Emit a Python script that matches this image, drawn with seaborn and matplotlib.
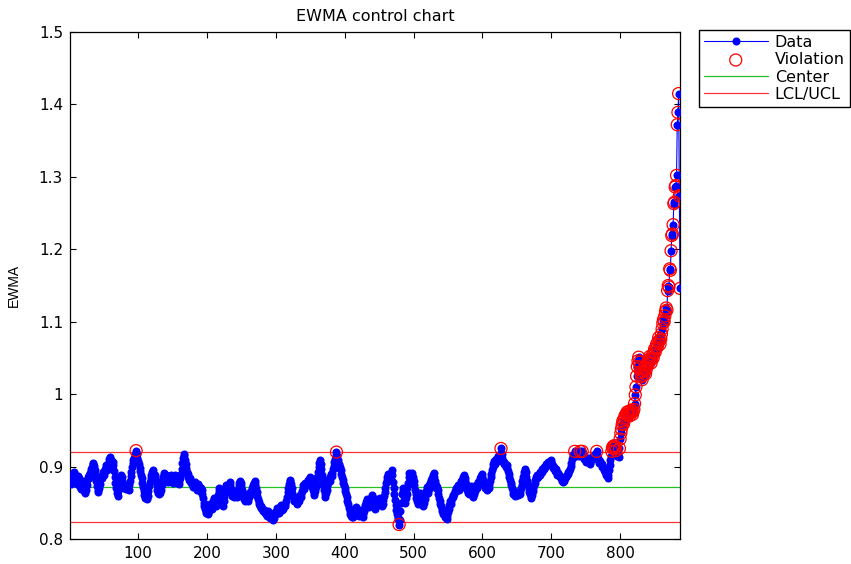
# EWMA control chart, MATLAB style, drawn with seaborn

import numpy as np
import pandas as pd
import seaborn as sns
import matplotlib
matplotlib.use("Agg")
import matplotlib.pyplot as plt


# EWMA values, samples 1..887
ewma_001_100 = [
    0.885, 0.880, 0.876, 0.879, 0.886, 0.890, 0.893, 0.888, 0.884, 0.879,
    0.876, 0.881, 0.887, 0.884, 0.878, 0.872, 0.869, 0.874, 0.880, 0.877,
    0.870, 0.866, 0.863, 0.868, 0.875, 0.882, 0.886, 0.884, 0.889, 0.891,
    0.893, 0.897, 0.900, 0.903, 0.905, 0.901, 0.895, 0.888, 0.880, 0.873,
    0.868, 0.865, 0.870, 0.876, 0.881, 0.886, 0.884, 0.889, 0.893, 0.889,
    0.893, 0.897, 0.902, 0.898, 0.895, 0.901, 0.906, 0.910, 0.913, 0.909,
    0.904, 0.899, 0.906, 0.902, 0.894, 0.886, 0.878, 0.870, 0.863, 0.860,
    0.866, 0.873, 0.879, 0.884, 0.888, 0.885, 0.880, 0.876, 0.873, 0.871,
    0.874, 0.871, 0.869, 0.872, 0.870, 0.868, 0.874, 0.880, 0.887, 0.893,
    0.899, 0.905, 0.909, 0.912, 0.915, 0.918, 0.922, 0.917, 0.912, 0.908,
]
ewma_101_200 = [
    0.903, 0.898, 0.894, 0.889, 0.884, 0.878, 0.872, 0.866, 0.861, 0.856,
    0.861, 0.858, 0.855, 0.860, 0.866, 0.873, 0.879, 0.884, 0.889, 0.893,
    0.895, 0.890, 0.886, 0.888, 0.885, 0.880, 0.874, 0.868, 0.864, 0.862,
    0.866, 0.864, 0.868, 0.874, 0.880, 0.886, 0.891, 0.888, 0.884, 0.886,
    0.889, 0.887, 0.883, 0.879, 0.882, 0.885, 0.889, 0.886, 0.882, 0.878,
    0.881, 0.885, 0.888, 0.884, 0.880, 0.877, 0.881, 0.879, 0.876, 0.880,
    0.884, 0.890, 0.897, 0.905, 0.912, 0.918, 0.914, 0.909, 0.903, 0.898,
    0.893, 0.890, 0.886, 0.882, 0.884, 0.880, 0.877, 0.879, 0.875, 0.872,
    0.876, 0.879, 0.875, 0.871, 0.868, 0.872, 0.876, 0.873, 0.869, 0.866,
    0.870, 0.867, 0.862, 0.856, 0.850, 0.845, 0.842, 0.838, 0.836, 0.840,
]
ewma_201_300 = [
    0.837, 0.834, 0.838, 0.843, 0.848, 0.845, 0.841, 0.846, 0.852, 0.856,
    0.853, 0.849, 0.845, 0.850, 0.856, 0.861, 0.866, 0.870, 0.865, 0.860,
    0.855, 0.850, 0.846, 0.852, 0.858, 0.864, 0.870, 0.874, 0.871, 0.867,
    0.872, 0.876, 0.879, 0.874, 0.869, 0.864, 0.860, 0.863, 0.858, 0.862,
    0.866, 0.862, 0.858, 0.863, 0.868, 0.873, 0.877, 0.880, 0.878, 0.873,
    0.868, 0.863, 0.858, 0.855, 0.852, 0.856, 0.860, 0.857, 0.853, 0.856,
    0.858, 0.861, 0.865, 0.862, 0.866, 0.870, 0.874, 0.878, 0.880, 0.876,
    0.871, 0.865, 0.860, 0.855, 0.851, 0.848, 0.846, 0.843, 0.845, 0.842,
    0.839, 0.842, 0.838, 0.836, 0.839, 0.835, 0.832, 0.835, 0.838, 0.834,
    0.831, 0.829, 0.833, 0.830, 0.828, 0.826, 0.829, 0.833, 0.837, 0.835,
]
ewma_301_400 = [
    0.839, 0.843, 0.840, 0.836, 0.839, 0.844, 0.847, 0.843, 0.840, 0.844,
    0.841, 0.845, 0.849, 0.846, 0.852, 0.858, 0.865, 0.871, 0.876, 0.880,
    0.882, 0.876, 0.870, 0.864, 0.860, 0.856, 0.852, 0.856, 0.853, 0.849,
    0.852, 0.856, 0.853, 0.857, 0.861, 0.858, 0.862, 0.866, 0.870, 0.874,
    0.869, 0.873, 0.877, 0.874, 0.878, 0.882, 0.879, 0.883, 0.886, 0.884,
    0.880, 0.876, 0.872, 0.868, 0.864, 0.861, 0.866, 0.872, 0.878, 0.885,
    0.892, 0.899, 0.905, 0.909, 0.903, 0.896, 0.889, 0.881, 0.874, 0.868,
    0.862, 0.858, 0.863, 0.868, 0.873, 0.878, 0.883, 0.880, 0.885, 0.890,
    0.887, 0.891, 0.896, 0.901, 0.906, 0.911, 0.916, 0.920, 0.914, 0.909,
    0.903, 0.898, 0.900, 0.895, 0.890, 0.886, 0.882, 0.878, 0.874, 0.870,
]
ewma_401_500 = [
    0.866, 0.862, 0.858, 0.853, 0.848, 0.843, 0.839, 0.835, 0.832, 0.830,
    0.833, 0.831, 0.835, 0.838, 0.836, 0.840, 0.844, 0.841, 0.838, 0.835,
    0.832, 0.836, 0.840, 0.838, 0.834, 0.831, 0.835, 0.839, 0.843, 0.847,
    0.851, 0.855, 0.852, 0.848, 0.844, 0.848, 0.852, 0.857, 0.861, 0.858,
    0.855, 0.851, 0.846, 0.842, 0.846, 0.850, 0.855, 0.853, 0.849, 0.852,
    0.856, 0.853, 0.849, 0.845, 0.849, 0.854, 0.859, 0.865, 0.871, 0.877,
    0.882, 0.886, 0.890, 0.886, 0.882, 0.886, 0.891, 0.895, 0.888, 0.879,
    0.870, 0.862, 0.854, 0.847, 0.840, 0.834, 0.830, 0.827, 0.820, 0.826,
    0.838, 0.850, 0.862, 0.870, 0.866, 0.860, 0.855, 0.850, 0.856, 0.862,
    0.870, 0.878, 0.885, 0.891, 0.888, 0.884, 0.888, 0.891, 0.886, 0.880,
]
ewma_501_600 = [
    0.874, 0.868, 0.862, 0.857, 0.853, 0.849, 0.852, 0.856, 0.860, 0.864,
    0.858, 0.853, 0.849, 0.846, 0.850, 0.855, 0.860, 0.866, 0.872, 0.868,
    0.864, 0.869, 0.874, 0.878, 0.882, 0.879, 0.884, 0.888, 0.891, 0.886,
    0.880, 0.875, 0.870, 0.872, 0.867, 0.862, 0.857, 0.853, 0.849, 0.845,
    0.842, 0.838, 0.835, 0.838, 0.834, 0.831, 0.829, 0.828, 0.832, 0.837,
    0.842, 0.847, 0.852, 0.849, 0.853, 0.857, 0.861, 0.858, 0.862, 0.866,
    0.870, 0.866, 0.870, 0.874, 0.871, 0.867, 0.871, 0.876, 0.880, 0.877,
    0.881, 0.885, 0.888, 0.884, 0.880, 0.876, 0.872, 0.868, 0.864, 0.862,
    0.865, 0.869, 0.873, 0.869, 0.865, 0.861, 0.858, 0.862, 0.866, 0.870,
    0.874, 0.871, 0.875, 0.879, 0.876, 0.880, 0.884, 0.887, 0.890, 0.886,
]
ewma_601_700 = [
    0.882, 0.878, 0.874, 0.870, 0.872, 0.868, 0.871, 0.874, 0.870, 0.875,
    0.880, 0.885, 0.890, 0.895, 0.899, 0.904, 0.908, 0.903, 0.907, 0.911,
    0.908, 0.912, 0.915, 0.910, 0.914, 0.918, 0.925, 0.918, 0.912, 0.907,
    0.903, 0.907, 0.903, 0.899, 0.902, 0.898, 0.894, 0.890, 0.886, 0.882,
    0.878, 0.874, 0.870, 0.866, 0.862, 0.866, 0.863, 0.860, 0.863, 0.861,
    0.864, 0.861, 0.865, 0.862, 0.866, 0.870, 0.875, 0.880, 0.885, 0.889,
    0.893, 0.897, 0.892, 0.886, 0.880, 0.874, 0.869, 0.865, 0.862, 0.859,
    0.857, 0.861, 0.866, 0.870, 0.874, 0.878, 0.882, 0.886, 0.884, 0.888,
    0.885, 0.889, 0.892, 0.889, 0.893, 0.896, 0.893, 0.897, 0.900, 0.897,
    0.900, 0.903, 0.901, 0.904, 0.906, 0.903, 0.906, 0.908, 0.909, 0.907,
]
ewma_701_800 = [
    0.904, 0.901, 0.898, 0.900, 0.897, 0.894, 0.896, 0.892, 0.889, 0.891,
    0.888, 0.885, 0.887, 0.884, 0.882, 0.880, 0.879, 0.882, 0.880, 0.884,
    0.887, 0.885, 0.889, 0.892, 0.890, 0.894, 0.897, 0.901, 0.905, 0.910,
    0.913, 0.916, 0.918, 0.921, 0.917, 0.914, 0.916, 0.918, 0.917, 0.915,
    0.919, 0.921, 0.917, 0.914, 0.921, 0.918, 0.914, 0.910, 0.912, 0.909,
    0.906, 0.909, 0.912, 0.909, 0.906, 0.903, 0.906, 0.910, 0.913, 0.911,
    0.914, 0.916, 0.913, 0.917, 0.915, 0.921, 0.916, 0.912, 0.908, 0.905,
    0.908, 0.904, 0.900, 0.903, 0.899, 0.895, 0.897, 0.892, 0.888, 0.891,
    0.887, 0.884, 0.889, 0.895, 0.902, 0.909, 0.915, 0.921, 0.926, 0.928,
    0.925, 0.929, 0.926, 0.922, 0.918, 0.914, 0.917, 0.913, 0.925, 0.938,
]
ewma_801_887 = [
    0.946, 0.952, 0.958, 0.963, 0.959, 0.965, 0.970, 0.967, 0.972, 0.975,
    0.971, 0.976, 0.973, 0.970, 0.974, 0.978, 0.975, 0.972, 0.976, 0.979,
    0.987, 0.999, 1.010, 1.025, 1.038, 1.046, 1.051, 1.044, 1.037, 1.030,
    1.024, 1.020, 1.026, 1.031, 1.036, 1.033, 1.028, 1.034, 1.040, 1.045,
    1.042, 1.048, 1.052, 1.047, 1.043, 1.049, 1.054, 1.050, 1.057, 1.062,
    1.058, 1.064, 1.069, 1.065, 1.072, 1.078, 1.074, 1.069, 1.076, 1.083,
    1.090, 1.098, 1.103, 1.100, 1.108, 1.114, 1.119, 1.116, 1.143, 1.150,
    1.148, 1.173, 1.171, 1.198, 1.219, 1.221, 1.234, 1.263, 1.265, 1.286,
    1.288, 1.302, 1.372, 1.389, 1.415, 1.274, 1.146,
]

# control limits
center = 0.8712
ucl = 0.9195
lcl = 0.8229

x_ticks = [100, 200, 300, 400, 500, 600, 700, 800]
y_ticks = [0.8, 0.9, 1.0, 1.1, 1.2, 1.3, 1.4, 1.5]
y_tick_labels = ["0.8", "0.9", "1", "1.1", "1.2", "1.3", "1.4", "1.5"]


ewma = np.concatenate([ewma_001_100, ewma_101_200, ewma_201_300, ewma_301_400,
                       ewma_401_500, ewma_501_600, ewma_601_700, ewma_701_800,
                       ewma_801_887])
df = pd.DataFrame({"sample": np.arange(1, len(ewma) + 1), "ewma": ewma})
# points outside the limits get a red ring
df["violation"] = (df.ewma > ucl) | (df.ewma < lcl)

sns.set_style("ticks")
# the source text is a stretched Helvetica, DejaVu is the closest in width
plt.rcParams["font.family"] = ["DejaVu Sans"]
plt.rcParams["text.color"] = "black"
plt.rcParams["axes.labelcolor"] = "black"

fig = plt.figure(figsize=(8.51, 5.64), dpi=100)
ax = fig.add_axes([70 / 851, 1 - 539 / 564, 610 / 851, 507 / 564])

sns.lineplot(data=df, x="sample", y="ewma", color="blue", linewidth=0.8,
             marker="o", markersize=5.8, markeredgewidth=0, sort=False,
             errorbar=None, label="Data", ax=ax, zorder=3)
ax.scatter(df.loc[df.violation, "sample"], df.loc[df.violation, "ewma"],
           s=75, facecolors="none", edgecolors="red", linewidths=0.9,
           label="Violation", zorder=4)
ax.axhline(center, color="#22c022", linewidth=0.9, label="Center", zorder=2)
ax.axhline(ucl, color="#ff3333", linewidth=0.9, label="LCL/UCL", zorder=2)
ax.axhline(lcl, color="#ff3333", linewidth=0.9, zorder=2)

ax.set_xlim(1, len(ewma))
ax.set_ylim(0.8, 1.5)
ax.set_xticks(x_ticks)
ax.set_yticks(y_ticks)
ax.set_yticklabels(y_tick_labels)
ax.tick_params(direction="in", top=True, right=True, length=4, width=0.8,
               labelsize=11, colors="black", pad=5)
for side in ["top", "bottom", "left", "right"]:
    ax.spines[side].set_visible(True)
    ax.spines[side].set_color("black")
    ax.spines[side].set_linewidth(0.9)

ax.set_xlabel("")
ax.set_ylabel("EWMA", fontsize=10, labelpad=13, family="Liberation Sans",
              color="black")
ax.set_title("EWMA control chart", fontsize=11.5, pad=8, color="black")

leg = ax.legend(loc="upper left", bbox_to_anchor=(699 / 851, 1 - 30 / 564),
                bbox_transform=fig.transFigure, frameon=True, fancybox=False,
                edgecolor="black", framealpha=1, fontsize=11.5,
                handlelength=4.0, labelspacing=0.15, borderpad=0.3,
                borderaxespad=0, handletextpad=0.45)
for text in leg.get_texts():
    text.set_color("black")

plt.savefig("out.png", dpi=100)
